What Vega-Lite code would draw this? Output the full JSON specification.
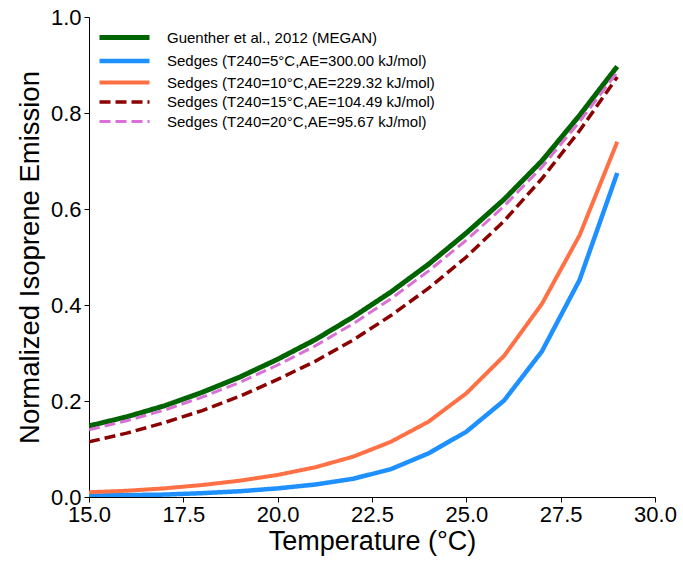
{
  "$schema": "https://vega.github.io/schema/vega-lite/v6.json",
  "autosize": "none",
  "width": 566,
  "height": 480,
  "padding": {"left": 89, "top": 17, "right": 28, "bottom": 65},
  "background": "white",
  "config": {
    "view": {"stroke": null},
    "font": "Liberation Sans"
  },
  "datasets": {
    "curves": [
      {"series": "Guenther et al., 2012 (MEGAN)", "T": 15, "E": 0.148},
      {"series": "Guenther et al., 2012 (MEGAN)", "T": 16, "E": 0.167},
      {"series": "Guenther et al., 2012 (MEGAN)", "T": 17, "E": 0.190},
      {"series": "Guenther et al., 2012 (MEGAN)", "T": 18, "E": 0.218},
      {"series": "Guenther et al., 2012 (MEGAN)", "T": 19, "E": 0.250},
      {"series": "Guenther et al., 2012 (MEGAN)", "T": 20, "E": 0.287},
      {"series": "Guenther et al., 2012 (MEGAN)", "T": 21, "E": 0.328},
      {"series": "Guenther et al., 2012 (MEGAN)", "T": 22, "E": 0.375},
      {"series": "Guenther et al., 2012 (MEGAN)", "T": 23, "E": 0.427},
      {"series": "Guenther et al., 2012 (MEGAN)", "T": 24, "E": 0.485},
      {"series": "Guenther et al., 2012 (MEGAN)", "T": 25, "E": 0.550},
      {"series": "Guenther et al., 2012 (MEGAN)", "T": 26, "E": 0.620},
      {"series": "Guenther et al., 2012 (MEGAN)", "T": 27, "E": 0.700},
      {"series": "Guenther et al., 2012 (MEGAN)", "T": 28, "E": 0.795},
      {"series": "Guenther et al., 2012 (MEGAN)", "T": 29, "E": 0.897},
      {"series": "Sedges (T240=5°C,AE=300.00 kJ/mol)", "T": 15, "E": 0.003},
      {"series": "Sedges (T240=5°C,AE=300.00 kJ/mol)", "T": 16, "E": 0.004},
      {"series": "Sedges (T240=5°C,AE=300.00 kJ/mol)", "T": 17, "E": 0.005},
      {"series": "Sedges (T240=5°C,AE=300.00 kJ/mol)", "T": 18, "E": 0.008},
      {"series": "Sedges (T240=5°C,AE=300.00 kJ/mol)", "T": 19, "E": 0.012},
      {"series": "Sedges (T240=5°C,AE=300.00 kJ/mol)", "T": 20, "E": 0.018},
      {"series": "Sedges (T240=5°C,AE=300.00 kJ/mol)", "T": 21, "E": 0.026},
      {"series": "Sedges (T240=5°C,AE=300.00 kJ/mol)", "T": 22, "E": 0.038},
      {"series": "Sedges (T240=5°C,AE=300.00 kJ/mol)", "T": 23, "E": 0.058},
      {"series": "Sedges (T240=5°C,AE=300.00 kJ/mol)", "T": 24, "E": 0.091},
      {"series": "Sedges (T240=5°C,AE=300.00 kJ/mol)", "T": 25, "E": 0.136},
      {"series": "Sedges (T240=5°C,AE=300.00 kJ/mol)", "T": 26, "E": 0.201},
      {"series": "Sedges (T240=5°C,AE=300.00 kJ/mol)", "T": 27, "E": 0.303},
      {"series": "Sedges (T240=5°C,AE=300.00 kJ/mol)", "T": 28, "E": 0.452},
      {"series": "Sedges (T240=5°C,AE=300.00 kJ/mol)", "T": 29, "E": 0.675},
      {"series": "Sedges (T240=10°C,AE=229.32 kJ/mol)", "T": 15, "E": 0.010},
      {"series": "Sedges (T240=10°C,AE=229.32 kJ/mol)", "T": 16, "E": 0.013},
      {"series": "Sedges (T240=10°C,AE=229.32 kJ/mol)", "T": 17, "E": 0.018},
      {"series": "Sedges (T240=10°C,AE=229.32 kJ/mol)", "T": 18, "E": 0.025},
      {"series": "Sedges (T240=10°C,AE=229.32 kJ/mol)", "T": 19, "E": 0.034},
      {"series": "Sedges (T240=10°C,AE=229.32 kJ/mol)", "T": 20, "E": 0.046},
      {"series": "Sedges (T240=10°C,AE=229.32 kJ/mol)", "T": 21, "E": 0.062},
      {"series": "Sedges (T240=10°C,AE=229.32 kJ/mol)", "T": 22, "E": 0.084},
      {"series": "Sedges (T240=10°C,AE=229.32 kJ/mol)", "T": 23, "E": 0.115},
      {"series": "Sedges (T240=10°C,AE=229.32 kJ/mol)", "T": 24, "E": 0.157},
      {"series": "Sedges (T240=10°C,AE=229.32 kJ/mol)", "T": 25, "E": 0.216},
      {"series": "Sedges (T240=10°C,AE=229.32 kJ/mol)", "T": 26, "E": 0.294},
      {"series": "Sedges (T240=10°C,AE=229.32 kJ/mol)", "T": 27, "E": 0.402},
      {"series": "Sedges (T240=10°C,AE=229.32 kJ/mol)", "T": 28, "E": 0.545},
      {"series": "Sedges (T240=10°C,AE=229.32 kJ/mol)", "T": 29, "E": 0.740},
      {"series": "Sedges (T240=15°C,AE=104.49 kJ/mol)", "T": 15, "E": 0.115},
      {"series": "Sedges (T240=15°C,AE=104.49 kJ/mol)", "T": 16, "E": 0.133},
      {"series": "Sedges (T240=15°C,AE=104.49 kJ/mol)", "T": 17, "E": 0.155},
      {"series": "Sedges (T240=15°C,AE=104.49 kJ/mol)", "T": 18, "E": 0.180},
      {"series": "Sedges (T240=15°C,AE=104.49 kJ/mol)", "T": 19, "E": 0.210},
      {"series": "Sedges (T240=15°C,AE=104.49 kJ/mol)", "T": 20, "E": 0.245},
      {"series": "Sedges (T240=15°C,AE=104.49 kJ/mol)", "T": 21, "E": 0.283},
      {"series": "Sedges (T240=15°C,AE=104.49 kJ/mol)", "T": 22, "E": 0.327},
      {"series": "Sedges (T240=15°C,AE=104.49 kJ/mol)", "T": 23, "E": 0.378},
      {"series": "Sedges (T240=15°C,AE=104.49 kJ/mol)", "T": 24, "E": 0.435},
      {"series": "Sedges (T240=15°C,AE=104.49 kJ/mol)", "T": 25, "E": 0.500},
      {"series": "Sedges (T240=15°C,AE=104.49 kJ/mol)", "T": 26, "E": 0.575},
      {"series": "Sedges (T240=15°C,AE=104.49 kJ/mol)", "T": 27, "E": 0.663},
      {"series": "Sedges (T240=15°C,AE=104.49 kJ/mol)", "T": 28, "E": 0.763},
      {"series": "Sedges (T240=15°C,AE=104.49 kJ/mol)", "T": 29, "E": 0.875},
      {"series": "Sedges (T240=20°C,AE=95.67 kJ/mol)", "T": 15, "E": 0.140},
      {"series": "Sedges (T240=20°C,AE=95.67 kJ/mol)", "T": 16, "E": 0.159},
      {"series": "Sedges (T240=20°C,AE=95.67 kJ/mol)", "T": 17, "E": 0.181},
      {"series": "Sedges (T240=20°C,AE=95.67 kJ/mol)", "T": 18, "E": 0.208},
      {"series": "Sedges (T240=20°C,AE=95.67 kJ/mol)", "T": 19, "E": 0.239},
      {"series": "Sedges (T240=20°C,AE=95.67 kJ/mol)", "T": 20, "E": 0.275},
      {"series": "Sedges (T240=20°C,AE=95.67 kJ/mol)", "T": 21, "E": 0.315},
      {"series": "Sedges (T240=20°C,AE=95.67 kJ/mol)", "T": 22, "E": 0.361},
      {"series": "Sedges (T240=20°C,AE=95.67 kJ/mol)", "T": 23, "E": 0.413},
      {"series": "Sedges (T240=20°C,AE=95.67 kJ/mol)", "T": 24, "E": 0.471},
      {"series": "Sedges (T240=20°C,AE=95.67 kJ/mol)", "T": 25, "E": 0.535},
      {"series": "Sedges (T240=20°C,AE=95.67 kJ/mol)", "T": 26, "E": 0.606},
      {"series": "Sedges (T240=20°C,AE=95.67 kJ/mol)", "T": 27, "E": 0.687},
      {"series": "Sedges (T240=20°C,AE=95.67 kJ/mol)", "T": 28, "E": 0.782},
      {"series": "Sedges (T240=20°C,AE=95.67 kJ/mol)", "T": 29, "E": 0.885}
    ]
  },
  "data": {"name": "curves"},
  "mark": {"type": "line", "strokeCap": "butt", "clip": true},
  "encoding": {
    "x": {
      "field": "T",
      "type": "quantitative",
      "scale": {"domain": [15, 30], "nice": false, "zero": false},
      "axis": {
        "title": "Temperature (°C)",
        "titleFontSize": 27,
        "titleFontWeight": "normal",
        "titleColor": "black",
        "titlePadding": 3,
        "values": [15, 17.5, 20, 22.5, 25, 27.5, 30],
        "format": ".1f",
        "labelFontSize": 22,
        "labelColor": "black",
        "labelPadding": 2,
        "labelFlush": false,
        "grid": false,
        "domainColor": "black",
        "tickColor": "black",
        "tickSize": 5
      }
    },
    "y": {
      "field": "E",
      "type": "quantitative",
      "scale": {"domain": [0, 1], "nice": false},
      "axis": {
        "title": "Normalized Isoprene Emission",
        "titleFontSize": 27.5,
        "titleFontWeight": "normal",
        "titleColor": "black",
        "titlePadding": 6,
        "values": [0, 0.2, 0.4, 0.6, 0.8, 1.0],
        "format": ".1f",
        "labelFontSize": 22,
        "labelColor": "black",
        "labelPadding": 3,
        "labelFlush": false,
        "grid": false,
        "domainColor": "black",
        "tickColor": "black",
        "tickSize": 5
      }
    },
    "color": {
      "field": "series",
      "type": "nominal",
      "scale": {
        "domain": [
          "Guenther et al., 2012 (MEGAN)",
          "Sedges (T240=5°C,AE=300.00 kJ/mol)",
          "Sedges (T240=10°C,AE=229.32 kJ/mol)",
          "Sedges (T240=15°C,AE=104.49 kJ/mol)",
          "Sedges (T240=20°C,AE=95.67 kJ/mol)"
        ],
        "range": ["#006400", "#1E90FF", "#FF7044", "#8B0000", "#DA70D6"]
      },
      "legend": {
        "title": null,
        "orient": "none",
        "legendX": 3,
        "legendY": 13,
        "labelFontSize": 15,
        "labelColor": "black",
        "labelLimit": 400,
        "symbolType": "M0,0H20",
        "symbolSize": 25,
        "rowPadding": 3.5,
        "labelOffset": 60
      }
    },
    "strokeWidth": {
      "field": "series",
      "type": "nominal",
      "scale": {
        "domain": [
          "Guenther et al., 2012 (MEGAN)",
          "Sedges (T240=5°C,AE=300.00 kJ/mol)",
          "Sedges (T240=10°C,AE=229.32 kJ/mol)",
          "Sedges (T240=15°C,AE=104.49 kJ/mol)",
          "Sedges (T240=20°C,AE=95.67 kJ/mol)"
        ],
        "range": [5, 3, 3, 3, 3]
      },
      "legend": null
    },
    "strokeDash": {
      "field": "series",
      "type": "nominal",
      "scale": {
        "domain": [
          "Guenther et al., 2012 (MEGAN)",
          "Sedges (T240=5°C,AE=300.00 kJ/mol)",
          "Sedges (T240=10°C,AE=229.32 kJ/mol)",
          "Sedges (T240=15°C,AE=104.49 kJ/mol)",
          "Sedges (T240=20°C,AE=95.67 kJ/mol)"
        ],
        "range": [[1, 0], [1, 0], [1, 0], [11, 5], [11, 5]]
      },
      "legend": null
    }
  }
}
